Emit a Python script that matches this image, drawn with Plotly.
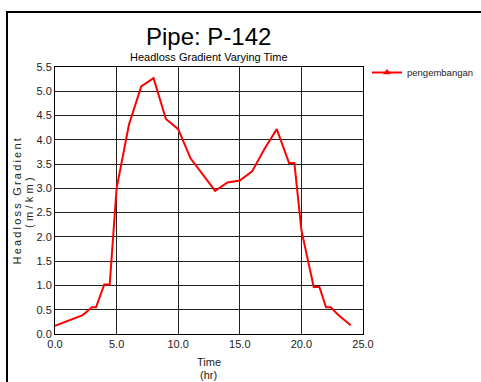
import plotly.graph_objects as go

# Data
time_hr = [0, 1, 2, 2.25, 3, 3.33, 4, 4.44, 5, 6, 7, 8, 9, 10, 11, 12, 13, 14, 15, 16, 17, 18,
           19, 19.43, 20, 21, 21.46, 22, 22.38, 23, 24]
headloss = [0.17, 0.27, 0.38, 0.39, 0.55, 0.55, 1.02, 1.02, 3.0, 4.31, 5.10, 5.27, 4.43, 4.22, 3.62,
            3.28, 2.95, 3.12, 3.16, 3.35, 3.81, 4.22, 3.52, 3.52, 2.14, 0.97, 0.97, 0.55, 0.55,
            0.39, 0.18]
series_name = "pengembangan"
x_ticks = [0, 5, 10, 15, 20, 25]
y_ticks = [0, 0.5, 1, 1.5, 2, 2.5, 3, 3.5, 4, 4.5, 5, 5.5]

FONT = "Liberation Sans, Arial, sans-serif"

fig = go.Figure()
fig.add_trace(go.Scatter(x=time_hr, y=headloss, mode="lines", line=dict(color="#ff0000", width=2),
                         showlegend=False, hoverinfo="x+y"))
# legend entry (line with triangle marker)
fig.add_trace(go.Scatter(x=[None], y=[None], mode="lines+markers", name=series_name,
                         line=dict(color="#ff0000", width=2),
                         marker=dict(symbol="triangle-up", size=7, color="#ff0000")))

L, R, T, B = 55, 118, 67, 48
W, H = 481, 382
ph = H - T - B

def py(p):
    return (H - B - p) / ph

def px(p):
    return (p - L) / (W - L - R)

fig.update_layout(
    width=W, height=H,
    margin=dict(l=L, r=R, t=T, b=B, pad=0, autoexpand=False),
    paper_bgcolor="white", plot_bgcolor="white",
    font=dict(family=FONT, size=11, color="#222222"),
    showlegend=True,
    legend=dict(x=px(367), y=py(58), xanchor="left", yanchor="top",
                font=dict(family=FONT, size=9.5, color="#222222"),
                bgcolor="rgba(0,0,0,0)", borderwidth=0, itemwidth=30),
    xaxis=dict(range=[0, 25], tickvals=x_ticks, tickformat=".1f", showgrid=True,
               gridcolor="#222222", gridwidth=1, showline=True, linecolor="black", linewidth=1,
               mirror=True, ticks="", zeroline=False, automargin=False,
               tickfont=dict(size=11, color="#222222")),
    yaxis=dict(range=[0, 5.5], tickvals=y_ticks, tickformat=".1f", showgrid=True,
               gridcolor="#222222", gridwidth=1, showline=True, linecolor="black", linewidth=1,
               mirror=True, ticks="", zeroline=False, automargin=False,
               tickfont=dict(size=11, color="#222222"), ticklabelstandoff=0),
    annotations=[
        dict(text="Pipe: P-142", x=px(208.5), y=py(37), xref="paper", yref="paper",
             xanchor="center", yanchor="middle", showarrow=False,
             font=dict(family=FONT, size=24, color="black")),
        dict(text="Headloss Gradient Varying Time", x=px(209), y=py(57), xref="paper", yref="paper",
             xanchor="center", yanchor="middle", showarrow=False,
             font=dict(family=FONT, size=11, color="black")),
        dict(text='<span style="letter-spacing:2.2px">Headloss Gradient</span>',
             x=px(16), y=py(200.5), xref="paper", yref="paper", textangle=-90,
             xanchor="center", yanchor="middle", showarrow=False,
             font=dict(family=FONT, size=11, color="#222222")),
        dict(text='<span style="letter-spacing:3.3px">(m/km)</span>',
             x=px(29), y=py(201), xref="paper", yref="paper", textangle=-90,
             xanchor="center", yanchor="middle", showarrow=False,
             font=dict(family=FONT, size=11, color="#222222")),
        dict(text="Time", x=px(208.5), y=py(362), xref="paper", yref="paper",
             xanchor="center", yanchor="middle", showarrow=False,
             font=dict(family=FONT, size=11, color="#222222")),
        dict(text="(hr)", x=px(208.5), y=py(375), xref="paper", yref="paper",
             xanchor="center", yanchor="middle", showarrow=False,
             font=dict(family=FONT, size=11, color="#222222")),
    ],
    shapes=[
        dict(type="rect", xref="paper", yref="paper", x0=px(7), y0=py(395), x1=px(500), y1=py(12),
             line=dict(color="black", width=2), layer="below"),
    ],
)

fig.write_html("out.html", config={"displayModeBar": False},
               post_script="document.body.style.margin='0';")
